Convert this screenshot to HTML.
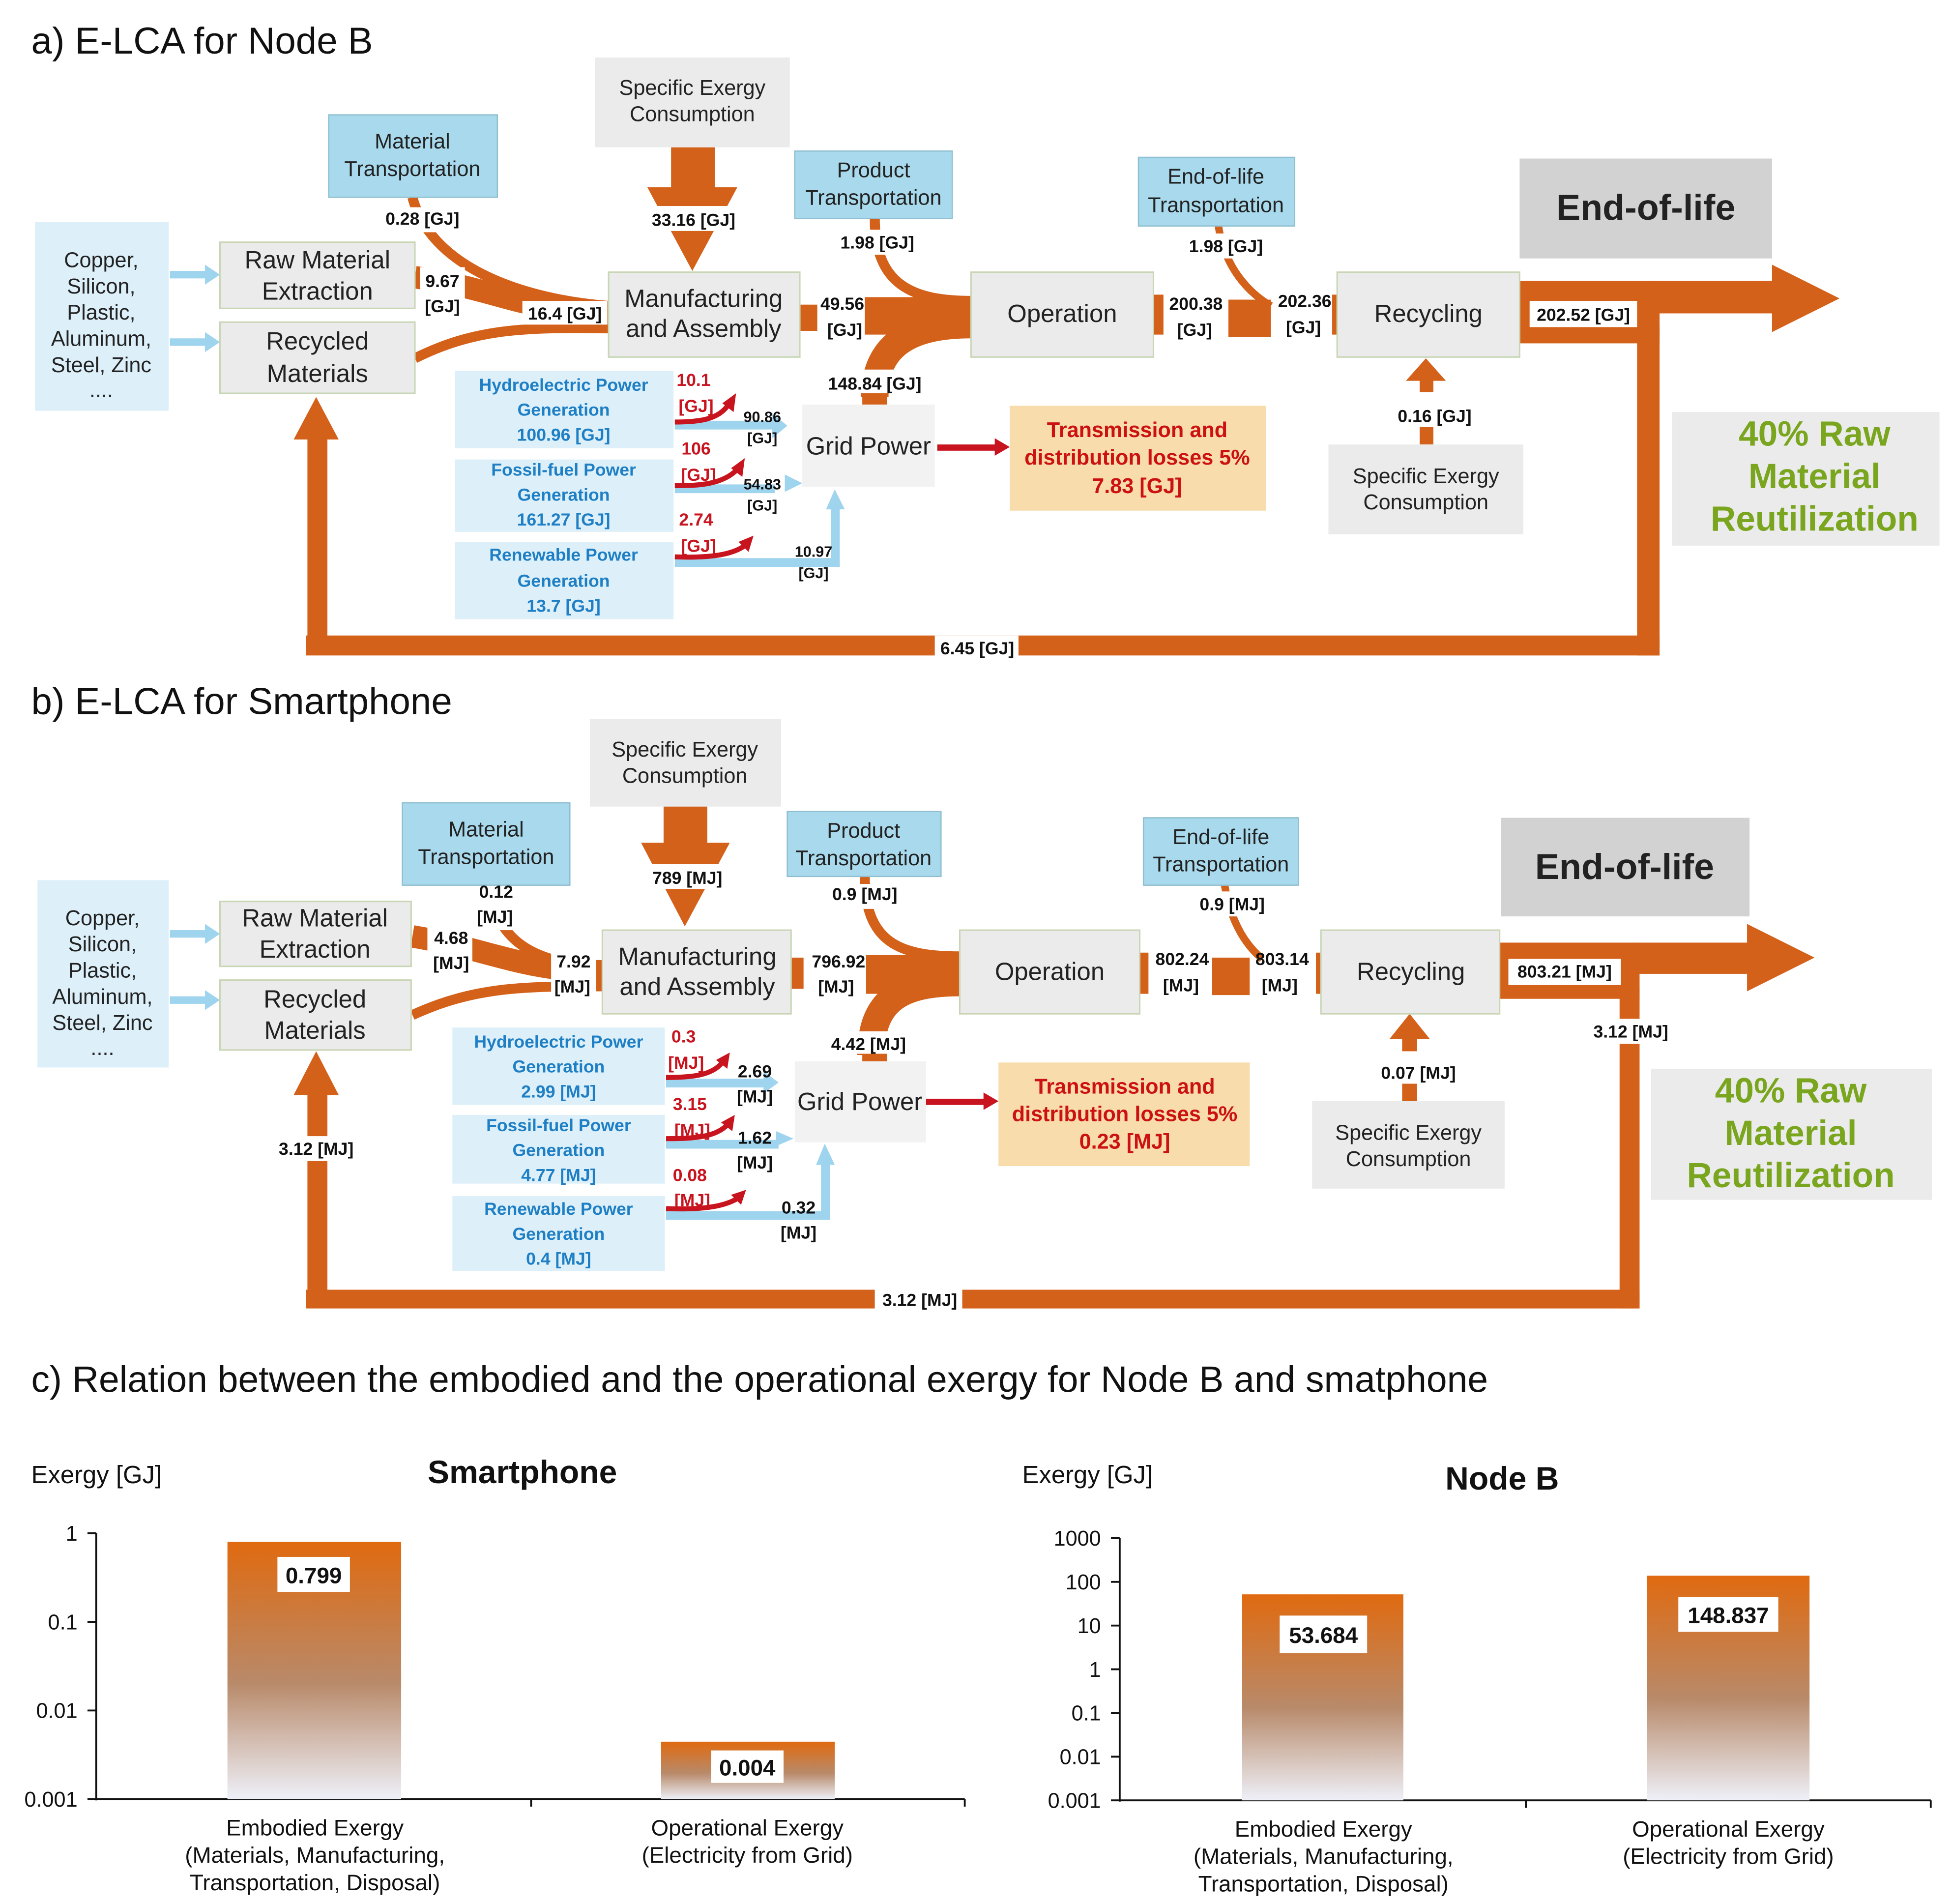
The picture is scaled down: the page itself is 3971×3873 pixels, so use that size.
<!DOCTYPE html>
<html><head><meta charset="utf-8"><style>
html,body{margin:0;padding:0;background:#fff}
svg{display:block}
text{font-family:"Liberation Sans",sans-serif}
.n{font-size:20px;fill:#222;text-anchor:middle}
.s{font-size:17px;fill:#222;text-anchor:middle}
.l{font-size:14px;font-weight:bold;fill:#111;text-anchor:middle}
.t{font-size:12px;font-weight:bold;fill:#111;text-anchor:middle}
.r{font-size:14px;font-weight:bold;fill:#c8141e;text-anchor:middle}
.b{font-size:14px;font-weight:bold;fill:#1f7fc4;text-anchor:middle}
.tr{font-size:17px;font-weight:bold;fill:#cc1111;text-anchor:middle}
.g{font-size:28px;font-weight:bold;fill:#7aa51e;text-anchor:middle}
.e{font-size:29px;font-weight:bold;fill:#222;text-anchor:middle}
.h{font-size:30px;fill:#111}
.ax{font-size:17px;fill:#111;text-anchor:end}
.ct{font-size:18px;fill:#111;text-anchor:middle}
.bv{font-size:18px;font-weight:bold;fill:#111;text-anchor:middle}
.o{fill:#d4611a}
.f{fill:none;stroke:#d4611a}
.bl{fill:#9fd4ee}
.w{fill:#fff}
.gbox{fill:#ebebeb;stroke:#c9d6b6;stroke-width:1.2}
.lb{fill:#ddf0fa}
.mb{fill:#a8d9ec;stroke:#8fbfd0;stroke-width:1}
</style></head><body>
<svg width="3971" height="3873" viewBox="0 0 1562 1525" preserveAspectRatio="none" xmlns="http://www.w3.org/2000/svg">
<defs>
<linearGradient id="bar" x1="0" y1="0" x2="0" y2="1">
<stop offset="0" stop-color="#e06a10"/><stop offset="0.55" stop-color="#b88a6a"/><stop offset="1" stop-color="#eef0f8"/>
</linearGradient>
</defs>

<!-- ===================== PART A ===================== -->
<text class="h" x="25" y="43">a) E-LCA for Node B</text>

<path class="f" stroke-width="8" d="M330 158 C 345 215, 420 240, 487 245"/>
<path class="f" stroke-width="18" d="M332 222 C 400 232, 420 250, 487 250"/>
<path class="f" stroke-width="8" d="M332 287 C 380 263, 420 262, 487 263"/>
<rect class="w" x="418" y="241" width="68" height="19"/>
<text class="l" x="452" y="256">16.4 [GJ]</text>
<rect class="o" x="537" y="118" width="35" height="46"/>
<polygon class="o" points="518,150 590,150 554,217"/>
<rect class="w" x="515" y="165" width="80" height="20"/>
<text class="l" x="555" y="181">33.16 [GJ]</text>
<path class="f" stroke-width="8" d="M700 175 C 700 228, 730 241, 777 241"/>
<path class="f" stroke-width="22" d="M700 318 C 700 275, 730 260, 777 260"/>
<rect class="o" x="640" y="244" width="16" height="21"/>
<rect class="o" x="692" y="238" width="85" height="30"/>
<rect class="o" x="690" y="315" width="20" height="10"/>
<rect class="o" x="923" y="236" width="8" height="32"/>
<rect class="o" x="983" y="240" width="34" height="30"/>
<path class="f" stroke-width="6" d="M975 181 C 980 215, 1000 235, 1017 245"/>
<rect class="o" x="1066" y="236" width="4" height="32"/>
<rect class="o" x="1136" y="342" width="11" height="14"/>
<rect class="o" x="1136" y="300" width="11" height="14"/>
<polygon class="o" points="1125,305 1157,305 1141,287"/>
<rect class="o" x="1216" y="225" width="112" height="50"/>
<rect class="o" x="1320" y="225" width="105" height="26"/>
<polygon class="o" points="1418,212 1472,239 1418,266"/>
<rect class="o" x="1310" y="260" width="18" height="265"/>
<rect class="o" x="245" y="509" width="1083" height="16"/>
<rect class="o" x="246" y="345" width="16" height="175"/>
<polygon class="o" points="235,352 271,352 253,318"/>
<rect class="w" x="748" y="509" width="67" height="18"/>
<text class="l" x="782" y="524">6.45 [GJ]</text>
<rect class="w" x="1224" y="241" width="86" height="21"/>
<text class="l" x="1267" y="257">202.52 [GJ]</text>

<!-- label backgrounds a -->
<rect class="w" x="305" y="166" width="68" height="20"/>
<rect class="w" x="336" y="214" width="36" height="42"/>
<rect class="w" x="668" y="184" width="68" height="20"/>
<rect class="w" x="654" y="234" width="38" height="40"/>
<rect class="w" x="658" y="296" width="84" height="19"/>
<rect class="w" x="947" y="187" width="68" height="20"/>

<rect class="bl" x="136" y="217" width="30" height="6"/><polygon class="bl" points="164,212 176,220 164,228"/>
<rect class="bl" x="136" y="271" width="30" height="6"/><polygon class="bl" points="164,266 176,274 164,282"/>
<rect class="bl" x="540" y="337" width="80" height="7"/><polygon class="bl" points="618,331 630,341 618,351"/>
<rect class="bl" x="540" y="388" width="80" height="7"/><polygon class="bl" points="628,380 642,387 628,394"/>
<rect class="bl" x="540" y="447" width="131" height="7"/><rect class="bl" x="665" y="405" width="7" height="49"/><polygon class="bl" points="661,408 668,392 676,408"/>
<path d="M540 338 C 560 338, 575 336, 583 324" fill="none" stroke="#c8141e" stroke-width="4"/><polygon fill="#c8141e" points="578,323 589,315 587,330"/>
<path d="M540 389 C 560 389, 578 388, 590 376" fill="none" stroke="#c8141e" stroke-width="4"/><polygon fill="#c8141e" points="585,375 596,367 594,382"/>
<path d="M540 446 C 565 447, 585 445, 596 437" fill="none" stroke="#c8141e" stroke-width="4"/><polygon fill="#c8141e" points="591,434 603,429 599,442"/>
<rect fill="#c8141e" x="750" y="356" width="48" height="5"/><polygon fill="#c8141e" points="796,351 808,358 796,365"/>

<rect class="lb" x="28" y="178" width="107" height="151"/>
<text class="s" x="81" y="214">Copper,</text><text class="s" x="81" y="235">Silicon,</text><text class="s" x="81" y="256">Plastic,</text><text class="s" x="81" y="277">Aluminum,</text><text class="s" x="81" y="298">Steel, Zinc</text><text class="s" x="81" y="318">....</text>
<rect class="gbox" x="176" y="194" width="156" height="53"/>
<text class="n" x="254" y="215">Raw Material</text><text class="n" x="254" y="240">Extraction</text>
<rect class="gbox" x="176" y="258" width="156" height="57"/>
<text class="n" x="254" y="280">Recycled</text><text class="n" x="254" y="306">Materials</text>
<rect class="mb" x="263" y="92" width="135" height="66"/>
<text class="s" x="330" y="119">Material</text><text class="s" x="330" y="141">Transportation</text>
<rect fill="#ebebeb" x="476" y="46" width="156" height="72"/>
<text class="s" x="554" y="76">Specific Exergy</text><text class="s" x="554" y="97">Consumption</text>
<rect class="gbox" x="487" y="218" width="153" height="68"/>
<text class="n" x="563" y="246">Manufacturing</text><text class="n" x="563" y="270">and Assembly</text>
<rect class="mb" x="636" y="121" width="126" height="54"/>
<text class="s" x="699" y="142">Product</text><text class="s" x="699" y="164">Transportation</text>
<rect class="gbox" x="777" y="218" width="146" height="68"/>
<text class="n" x="850" y="258">Operation</text>
<rect class="mb" x="911" y="126" width="125" height="55"/>
<text class="s" x="973" y="147">End-of-life</text><text class="s" x="973" y="170">Transportation</text>
<rect class="gbox" x="1070" y="218" width="146" height="68"/>
<text class="n" x="1143" y="258">Recycling</text>
<rect fill="#d2d2d2" x="1216" y="127" width="202" height="80"/>
<text class="e" x="1317" y="176">End-of-life</text>
<rect fill="#ebebeb" x="1338" y="330" width="214" height="107"/>
<text class="g" x="1452" y="357">40% Raw</text><text class="g" x="1452" y="391">Material</text><text class="g" x="1452" y="425">Reutilization</text>
<rect fill="#ebebeb" x="1063" y="356" width="156" height="72"/>
<text class="s" x="1141" y="387">Specific Exergy</text><text class="s" x="1141" y="408">Consumption</text>
<rect fill="#f2f2f2" x="642" y="324" width="106" height="66"/>
<text class="n" x="695" y="364">Grid Power</text>
<rect fill="#f8dcab" x="808" y="325" width="205" height="84"/>
<text class="tr" x="910" y="350">Transmission and</text><text class="tr" x="910" y="372">distribution losses 5%</text><text class="tr" x="910" y="395">7.83 [GJ]</text>
<rect class="lb" x="364" y="297" width="175" height="62"/>
<text class="b" x="451" y="313">Hydroelectric Power</text><text class="b" x="451" y="333">Generation</text><text class="b" x="451" y="353">100.96 [GJ]</text>
<rect class="lb" x="364" y="368" width="175" height="58"/>
<text class="b" x="451" y="381">Fossil-fuel Power</text><text class="b" x="451" y="401">Generation</text><text class="b" x="451" y="421">161.27  [GJ]</text>
<rect class="lb" x="364" y="434" width="175" height="62"/>
<text class="b" x="451" y="449">Renewable Power</text><text class="b" x="451" y="470">Generation</text><text class="b" x="451" y="490">13.7 [GJ]</text>

<text class="l" x="338" y="180">0.28 [GJ]</text>
<text class="l" x="354" y="230">9.67</text><text class="l" x="354" y="250">[GJ]</text>
<text class="l" x="674" y="248">49.56</text><text class="l" x="676" y="269">[GJ]</text>
<text class="l" x="702" y="199">1.98 [GJ]</text>
<text class="l" x="700" y="312">148.84 [GJ]</text>
<text class="l" x="981" y="202">1.98 [GJ]</text>
<text class="l" x="957" y="248">200.38</text><text class="l" x="956" y="269">[GJ]</text>
<text class="l" x="1044" y="246">202.36</text><text class="l" x="1043" y="267">[GJ]</text>
<text class="l" x="1148" y="338">0.16 [GJ]</text>
<text class="r" x="555" y="309">10.1</text><text class="r" x="557" y="330">[GJ]</text>
<text class="r" x="557" y="364">106</text><text class="r" x="559" y="385">[GJ]</text>
<text class="r" x="557" y="421">2.74</text><text class="r" x="559" y="442">[GJ]</text>
<text class="t" x="610" y="338">90.86</text><text class="t" x="610" y="355">[GJ]</text>
<text class="t" x="610" y="392">54.83</text><text class="t" x="610" y="409">[GJ]</text>
<text class="t" x="651" y="446">10.97</text><text class="t" x="651" y="463">[GJ]</text>

<!-- ===================== PART B ===================== -->
<text class="h" x="25" y="572">b) E-LCA for Smartphone</text>

<path class="f" stroke-width="8" d="M389 709 C 400 752, 420 770, 482 775"/>
<path class="f" stroke-width="18" d="M330 750 C 390 760, 420 778, 482 778"/>
<path class="f" stroke-width="8" d="M330 813 C 380 790, 420 790, 482 790"/>
<rect class="w" x="441" y="760" width="36" height="38"/>
<rect class="o" x="531" y="646" width="35" height="44"/>
<polygon class="o" points="513,675 584,675 548,742"/>
<rect class="w" x="510" y="692" width="80" height="20"/>
<path class="f" stroke-width="8" d="M692 702 C 692 755, 720 766, 768 766"/>
<path class="f" stroke-width="22" d="M697 845 C 697 800, 722 787, 768 787"/>
<rect class="o" x="633" y="767" width="10" height="25"/>
<rect class="o" x="693" y="765" width="75" height="31"/>
<rect class="o" x="690" y="843" width="20" height="8"/>
<rect class="o" x="912" y="763" width="7" height="33"/>
<rect class="o" x="970" y="767" width="30" height="30"/>
<path class="f" stroke-width="6" d="M980 709 C 985 740, 998 758, 1010 768"/>
<rect class="o" x="1053" y="763" width="4" height="33"/>
<rect class="o" x="1122" y="868" width="12" height="14"/>
<rect class="o" x="1122" y="828" width="12" height="14"/>
<polygon class="o" points="1112,832 1144,832 1128,812"/>
<rect class="o" x="1200" y="755" width="112" height="45"/>
<rect class="o" x="1305" y="755" width="100" height="25"/>
<polygon class="o" points="1398,740 1452,767 1398,794"/>
<rect class="o" x="1296" y="790" width="16" height="258"/>
<rect class="o" x="245" y="1033" width="1067" height="15"/>
<rect class="o" x="246" y="870" width="16" height="170"/>
<polygon class="o" points="235,877 271,877 253,842"/>
<rect class="w" x="700" y="1032" width="70" height="18"/>
<text class="l" x="736" y="1046">3.12 [MJ]</text>
<rect class="w" x="1207" y="768" width="90" height="21"/>
<text class="l" x="1252" y="783">803.21 [MJ]</text>
<rect class="w" x="1272" y="816" width="66" height="20"/>
<text class="l" x="1305" y="831">3.12 [MJ]</text>
<rect class="w" x="218" y="910" width="70" height="20"/>
<text class="l" x="253" y="925">3.12 [MJ]</text>

<!-- label backgrounds b -->
<rect class="w" x="378" y="707" width="38" height="38"/>
<rect class="w" x="342" y="742" width="36" height="40"/>
<rect class="w" x="645" y="760" width="48" height="40"/>
<rect class="w" x="662" y="708" width="62" height="20"/>
<rect class="w" x="657" y="826" width="76" height="18"/>
<rect class="w" x="957" y="714" width="62" height="20"/>

<rect class="bl" x="136" y="745" width="30" height="6"/><polygon class="bl" points="164,740 176,748 164,756"/>
<rect class="bl" x="136" y="798" width="30" height="6"/><polygon class="bl" points="164,793 176,801 164,809"/>
<rect class="bl" x="533" y="864" width="80" height="7"/><polygon class="bl" points="611,858 623,867 611,876"/>
<rect class="bl" x="533" y="913" width="90" height="7"/><polygon class="bl" points="621,906 635,912 621,918"/>
<rect class="bl" x="533" y="970" width="130" height="7"/><rect class="bl" x="657" y="930" width="7" height="47"/><polygon class="bl" points="653,933 660,916 668,933"/>
<path d="M533 863 C 555 863, 570 861, 578 851" fill="none" stroke="#c8141e" stroke-width="4"/><polygon fill="#c8141e" points="573,849 584,843 582,856"/>
<path d="M533 912 C 555 912, 572 911, 582 901" fill="none" stroke="#c8141e" stroke-width="4"/><polygon fill="#c8141e" points="577,899 588,893 586,906"/>
<path d="M533 968 C 560 969, 578 967, 590 960" fill="none" stroke="#c8141e" stroke-width="4"/><polygon fill="#c8141e" points="585,957 597,953 593,965"/>
<rect fill="#c8141e" x="741" y="880" width="48" height="5"/><polygon fill="#c8141e" points="787,875 799,882 787,889"/>

<rect class="lb" x="30" y="705" width="105" height="150"/>
<text class="s" x="82" y="741">Copper,</text><text class="s" x="82" y="762">Silicon,</text><text class="s" x="82" y="783">Plastic,</text><text class="s" x="82" y="804">Aluminum,</text><text class="s" x="82" y="825">Steel, Zinc</text><text class="s" x="82" y="845">....</text>
<rect class="gbox" x="176" y="722" width="153" height="52"/>
<text class="n" x="252" y="742">Raw Material</text><text class="n" x="252" y="767">Extraction</text>
<rect class="gbox" x="176" y="785" width="153" height="56"/>
<text class="n" x="252" y="807">Recycled</text><text class="n" x="252" y="832">Materials</text>
<rect class="mb" x="322" y="643" width="134" height="66"/>
<text class="s" x="389" y="670">Material</text><text class="s" x="389" y="692">Transportation</text>
<rect fill="#ebebeb" x="472" y="576" width="153" height="70"/>
<text class="s" x="548" y="606">Specific Exergy</text><text class="s" x="548" y="627">Consumption</text>
<rect class="gbox" x="482" y="745" width="151" height="67"/>
<text class="n" x="558" y="773">Manufacturing</text><text class="n" x="558" y="797">and Assembly</text>
<rect class="mb" x="630" y="650" width="123" height="52"/>
<text class="s" x="691" y="671">Product</text><text class="s" x="691" y="693">Transportation</text>
<rect class="gbox" x="768" y="745" width="144" height="67"/>
<text class="n" x="840" y="785">Operation</text>
<rect class="mb" x="915" y="655" width="124" height="54"/>
<text class="s" x="977" y="676">End-of-life</text><text class="s" x="977" y="698">Transportation</text>
<rect class="gbox" x="1057" y="745" width="143" height="67"/>
<text class="n" x="1129" y="785">Recycling</text>
<rect fill="#d2d2d2" x="1201" y="655" width="199" height="79"/>
<text class="e" x="1300" y="704">End-of-life</text>
<rect fill="#ebebeb" x="1321" y="856" width="225" height="105"/>
<text class="g" x="1433" y="883">40% Raw</text><text class="g" x="1433" y="917">Material</text><text class="g" x="1433" y="951">Reutilization</text>
<rect fill="#ebebeb" x="1050" y="882" width="154" height="70"/>
<text class="s" x="1127" y="913">Specific Exergy</text><text class="s" x="1127" y="934">Consumption</text>
<rect fill="#f2f2f2" x="636" y="850" width="105" height="65"/>
<text class="n" x="688" y="889">Grid Power</text>
<rect fill="#f8dcab" x="799" y="851" width="201" height="83"/>
<text class="tr" x="900" y="876">Transmission and</text><text class="tr" x="900" y="898">distribution losses 5%</text><text class="tr" x="900" y="920">0.23 [MJ]</text>
<rect class="lb" x="362" y="823" width="170" height="62"/>
<text class="b" x="447" y="839">Hydroelectric Power</text><text class="b" x="447" y="859">Generation</text><text class="b" x="447" y="879">2.99 [MJ]</text>
<rect class="lb" x="362" y="893" width="170" height="55"/>
<text class="b" x="447" y="906">Fossil-fuel Power</text><text class="b" x="447" y="926">Generation</text><text class="b" x="447" y="946">4.77  [MJ]</text>
<rect class="lb" x="362" y="958" width="170" height="60"/>
<text class="b" x="447" y="973">Renewable Power</text><text class="b" x="447" y="993">Generation</text><text class="b" x="447" y="1013">0.4 [MJ]</text>

<text class="l" x="397" y="719">0.12</text><text class="l" x="396" y="739">[MJ]</text>
<text class="l" x="361" y="756">4.68</text><text class="l" x="361" y="776">[MJ]</text>
<text class="l" x="459" y="775">7.92</text><text class="l" x="458" y="795">[MJ]</text>
<text class="l" x="550" y="708">789 [MJ]</text>
<text class="l" x="671" y="775">796.92</text><text class="l" x="669" y="795">[MJ]</text>
<text class="l" x="692" y="721">0.9 [MJ]</text>
<text class="l" x="695" y="841">4.42 [MJ]</text>
<text class="l" x="986" y="729">0.9 [MJ]</text>
<text class="l" x="946" y="773">802.24</text><text class="l" x="945" y="794">[MJ]</text>
<text class="l" x="1026" y="773">803.14</text><text class="l" x="1024" y="794">[MJ]</text>
<text class="l" x="1135" y="864">0.07 [MJ]</text>
<text class="r" x="547" y="835">0.3</text><text class="r" x="549" y="856">[MJ]</text>
<text class="r" x="552" y="889">3.15</text><text class="r" x="554" y="910">[MJ]</text>
<text class="r" x="552" y="946">0.08</text><text class="r" x="554" y="966">[MJ]</text>
<text class="l" x="604" y="863">2.69</text><text class="l" x="604" y="883">[MJ]</text>
<text class="l" x="604" y="916">1.62</text><text class="l" x="604" y="936">[MJ]</text>
<text class="l" x="639" y="972">0.32</text><text class="l" x="639" y="992">[MJ]</text>

<!-- ===================== PART C ===================== -->
<text class="h" x="25" y="1115" style="font-size:29.5px">c) Relation between the embodied and the operational exergy for Node B and smatphone</text>

<text x="25" y="1188" style="font-size:20px;fill:#111">Exergy [GJ]</text>
<text x="418" y="1188" style="font-size:26px;font-weight:bold;fill:#111;text-anchor:middle">Smartphone</text>
<g stroke="#111" stroke-width="1.5">
<line x1="77" y1="1228" x2="77" y2="1442"/>
<line x1="77" y1="1441" x2="772" y2="1441"/>
<line x1="70" y1="1228" x2="77" y2="1228"/><line x1="70" y1="1299" x2="77" y2="1299"/><line x1="70" y1="1370" x2="77" y2="1370"/><line x1="70" y1="1441" x2="77" y2="1441"/>
<line x1="425" y1="1441" x2="425" y2="1447"/><line x1="772" y1="1441" x2="772" y2="1447"/>
</g>
<text class="ax" x="62" y="1234">1</text><text class="ax" x="62" y="1305">0.1</text><text class="ax" x="62" y="1376">0.01</text><text class="ax" x="62" y="1447">0.001</text>
<rect fill="url(#bar)" x="182" y="1235" width="139" height="206"/>
<rect class="w" x="222" y="1247" width="58" height="28"/><text class="bv" x="251" y="1268">0.799</text>
<rect fill="url(#bar)" x="529" y="1395" width="139" height="46"/>
<rect class="w" x="569" y="1402" width="58" height="26"/><text class="bv" x="598" y="1422">0.004</text>
<text class="ct" x="252" y="1470">Embodied Exergy</text><text class="ct" x="252" y="1492">(Materials, Manufacturing,</text><text class="ct" x="252" y="1514">Transportation, Disposal)</text>
<text class="ct" x="598" y="1470">Operational Exergy</text><text class="ct" x="598" y="1492">(Electricity from Grid)</text>

<text x="818" y="1188" style="font-size:20px;fill:#111">Exergy [GJ]</text>
<text x="1202" y="1193" style="font-size:26px;font-weight:bold;fill:#111;text-anchor:middle">Node B</text>
<g stroke="#111" stroke-width="1.5">
<line x1="896" y1="1232" x2="896" y2="1443"/>
<line x1="896" y1="1442" x2="1545" y2="1442"/>
<line x1="889" y1="1232" x2="896" y2="1232"/><line x1="889" y1="1267" x2="896" y2="1267"/><line x1="889" y1="1302" x2="896" y2="1302"/><line x1="889" y1="1337" x2="896" y2="1337"/><line x1="889" y1="1372" x2="896" y2="1372"/><line x1="889" y1="1407" x2="896" y2="1407"/><line x1="889" y1="1442" x2="896" y2="1442"/>
<line x1="1221" y1="1442" x2="1221" y2="1448"/><line x1="1545" y1="1442" x2="1545" y2="1448"/>
</g>
<text class="ax" x="881" y="1238">1000</text><text class="ax" x="881" y="1273">100</text><text class="ax" x="881" y="1308">10</text><text class="ax" x="881" y="1343">1</text><text class="ax" x="881" y="1378">0.1</text><text class="ax" x="881" y="1413">0.01</text><text class="ax" x="881" y="1448">0.001</text>
<rect fill="url(#bar)" x="994" y="1277" width="129" height="165"/>
<rect class="w" x="1024" y="1294" width="70" height="30"/><text class="bv" x="1059" y="1316">53.684</text>
<rect fill="url(#bar)" x="1318" y="1262" width="130" height="180"/>
<rect class="w" x="1343" y="1279" width="80" height="28"/><text class="bv" x="1383" y="1300">148.837</text>
<text class="ct" x="1059" y="1471">Embodied Exergy</text><text class="ct" x="1059" y="1493">(Materials, Manufacturing,</text><text class="ct" x="1059" y="1515">Transportation, Disposal)</text>
<text class="ct" x="1383" y="1471">Operational Exergy</text><text class="ct" x="1383" y="1493">(Electricity from Grid)</text>
</svg>
</body></html>
